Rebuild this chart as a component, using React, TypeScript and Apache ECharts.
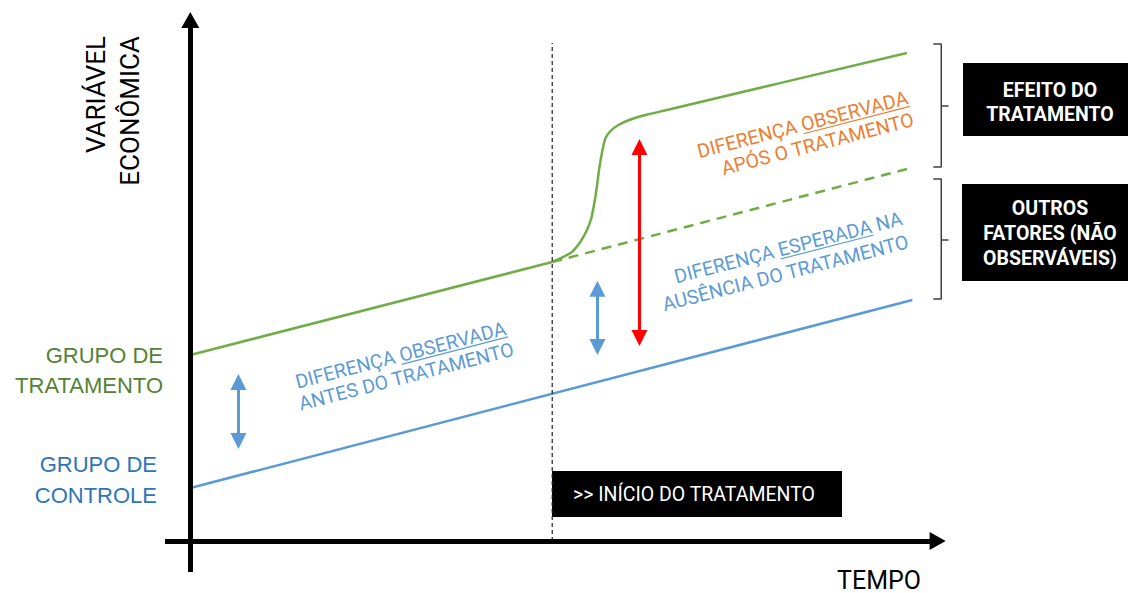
import React, { useEffect, useRef } from 'react';
import * as echarts from 'echarts';

const W = 1128;
const H = 593;
const FONT = 'Roboto, "Liberation Sans", sans-serif';
const LABEL_FONT = '"Liberation Sans", Arial, sans-serif';

// value ranges of the (hidden) axes
const xMin = -0.7;
const xMax = 25.8;
const yMin = -3.1;
const yMax = 52.9;

// control group (blue)
const controlT = [0, 19.95];
const controlY = [5.3, 24.1];
// treatment group before treatment (green)
const treatPreT = [0, 10];
const treatPreY = [18.6, 27.9];
// treatment group after treatment (green, jump)
const treatPostT = [10, 10.27, 10.55, 10.78, 10.96, 11.08, 11.17, 11.24, 11.3, 11.38, 11.47, 11.61, 11.83, 12.2, 12.66, 13.08, 19.8];
const treatPostY = [27.9, 28.33, 28.93, 29.93, 31.1, 32.27, 33.93, 35.6, 37.27, 38.93, 40.27, 41.0, 41.6, 42.2, 42.67, 43.03, 48.8];
// counterfactual (dashed green)
const counterT = [10, 19.8];
const counterY = [27.9, 37.2];
// start of treatment
const treatmentStart = 10;
const treatmentLineTop = 49.8;
// double arrows
const arrowPreT = 1.33;
const arrowPreY = [15.9, 10.0];
const arrowExpT = 11.25;
const arrowExpY = [25.23, 19.4];
const arrowEffT = 12.41;
const arrowEffY = [39.4, 20.3];
// axes
const axisXEnd = 20.65;
const axisYEnd = 52.1;
// brackets [top, bottom, middle]
const bracketT = [20.53, 20.75, 20.95];
const bracketEffectY = [49.7, 37.4, 43.5];
const bracketOtherY = [36.2, 24.2, 30.1];

// texts
const yTitleLines = ['VARIÁVEL', 'ECONÔMICA'];
const xTitle = 'TEMPO';
const treatLabelLines = ['GRUPO DE', 'TRATAMENTO'];
const controlLabelLines = ['GRUPO DE', 'CONTROLE'];
const preDiffLines = ['DIFERENÇA OBSERVADA', 'ANTES DO TRATAMENTO'];
const postDiffLines = ['DIFERENÇA OBSERVADA', 'APÓS O TRATAMENTO'];
const expDiffLines = ['DIFERENÇA ESPERADA NA', 'AUSÊNCIA DO TRATAMENTO'];
const startLabel = '>> INÍCIO DO TRATAMENTO';
const effectLabel = 'EFEITO DO\nTRATAMENTO';
const otherLabel = 'OUTROS\nFATORES (NÃO\nOBSERVÁVEIS)';

const GREEN = '#70AD47';
const BLUE = '#5B9BD5';
const GREEN_TXT = '#548235';
const BLUE_TXT = '#2E75B6';
const ORANGE = '#ED7D31';
const RED = '#FF0000';

const zip = (a: number[], b: number[]) => a.map((v, i) => [v, b[i]]);

let measureCtx: CanvasRenderingContext2D | null = null;
function measure(text: string, font: string) {
  if (!measureCtx) measureCtx = document.createElement('canvas').getContext('2d');
  measureCtx!.font = font;
  return measureCtx!.measureText(text).width;
}

const ROT = (14.5 * Math.PI) / 180;

function rotBlock(
  lines: string[],
  cx: number,
  cy: number,
  align: 'left' | 'center' | 'right',
  color: string,
  ul: { line: number; before: string; word: string },
  spacing: number
) {
  const font = `19.5px ${FONT}`;
  const children: any[] = [];
  lines.forEach((t, i) => {
    const ly = (i - (lines.length - 1) / 2) * spacing;
    children.push({
      type: 'text',
      x: 0,
      y: ly,
      style: { text: t, align, verticalAlign: 'middle', fill: color, font },
    });
  });
  const w = measure(lines[ul.line], font);
  const left = align === 'center' ? -w / 2 : align === 'right' ? -w : 0;
  const x1 = left + measure(ul.before, font);
  const x2 = x1 + measure(ul.word, font);
  const uy = (ul.line - (lines.length - 1) / 2) * spacing + 9;
  children.push({
    type: 'line',
    shape: { x1, y1: uy, x2, y2: uy },
    style: { stroke: color, lineWidth: 1.2 },
  });
  return { type: 'group', x: cx, y: cy, rotation: ROT, silent: true, children };
}

function lineSeries(data: number[][], color: string, width: number, type: any = 'solid', extra: any = {}) {
  return {
    type: 'line',
    data,
    symbol: 'none',
    silent: true,
    animation: false,
    lineStyle: { color, width, type },
    emphasis: { disabled: true },
    ...extra,
  };
}

function arrowSeries(segments: number[][][], color: string, width: number, symbol: string[], size: number[]) {
  return {
    type: 'line',
    data: [],
    silent: true,
    animation: false,
    markLine: {
      silent: true,
      animation: false,
      symbol,
      symbolSize: size,
      label: { show: false },
      emphasis: { disabled: true },
      lineStyle: { color, width, type: 'solid' },
      itemStyle: { color },
      data: segments.map(([a, b]) => [{ coord: a }, { coord: b }]),
    },
  };
}

function buildOption() {
  const labelFont = `22px ${LABEL_FONT}`;
  const series: any[] = [
    // axes
    arrowSeries(
      [
        [[xMin, 0], [axisXEnd, 0]],
        [[0, yMin], [0, axisYEnd]],
      ],
      '#000',
      5,
      ['none', 'triangle'],
      [18, 16]
    ),
    lineSeries(zip(controlT, controlY), BLUE, 2.5),
    lineSeries(zip(treatPreT, treatPreY), GREEN, 2.5),
    lineSeries(zip(treatPostT, treatPostY), GREEN, 2.5, 'solid', { smooth: 0.2 }),
    lineSeries(zip(counterT, counterY), GREEN, 2.5, [10, 7]),
    lineSeries([[treatmentStart, 0], [treatmentStart, treatmentLineTop]], '#222', 1.2, [4, 3]),
    arrowSeries(
      [
        [[arrowPreT, arrowPreY[0]], [arrowPreT, arrowPreY[1]]],
        [[arrowExpT, arrowExpY[0]], [arrowExpT, arrowExpY[1]]],
      ],
      BLUE,
      3,
      ['triangle', 'triangle'],
      [16, 16]
    ),
    arrowSeries([[[arrowEffT, arrowEffY[0]], [arrowEffT, arrowEffY[1]]]], RED, 3, ['triangle', 'triangle'], [16, 16]),
    lineSeries(
      [
        [bracketT[0], bracketEffectY[0]],
        [bracketT[1], bracketEffectY[0]],
        [bracketT[1], bracketEffectY[1]],
        [bracketT[0], bracketEffectY[1]],
      ],
      '#404040',
      1.5
    ),
    lineSeries([[bracketT[1], bracketEffectY[2]], [bracketT[2], bracketEffectY[2]]], '#404040', 1.5),
    lineSeries(
      [
        [bracketT[0], bracketOtherY[0]],
        [bracketT[1], bracketOtherY[0]],
        [bracketT[1], bracketOtherY[1]],
        [bracketT[0], bracketOtherY[1]],
      ],
      '#404040',
      1.5
    ),
    lineSeries([[bracketT[1], bracketOtherY[2]], [bracketT[2], bracketOtherY[2]]], '#404040', 1.5),
  ];

  const graphic: any[] = [
    // y title
    {
      type: 'text',
      x: 95.5,
      y: 36,
      rotation: Math.PI / 2,
      silent: true,
      style: { text: yTitleLines[0], align: 'right', verticalAlign: 'middle', fill: '#000', font: `26px ${FONT}` },
    },
    {
      type: 'text',
      x: 129.5,
      y: 36,
      rotation: Math.PI / 2,
      silent: true,
      style: { text: yTitleLines[1], align: 'right', verticalAlign: 'middle', fill: '#000', font: `26px ${FONT}` },
    },
    // x title
    {
      type: 'text',
      x: 921,
      y: 580,
      silent: true,
      style: { text: xTitle, align: 'right', verticalAlign: 'middle', fill: '#000', font: `25px ${FONT}` },
    },
    // group labels
    ...treatLabelLines.map((t, i) => ({
      type: 'text',
      x: 163,
      y: 355 + i * 30.5,
      silent: true,
      style: { text: t, align: 'right', verticalAlign: 'middle', fill: GREEN_TXT, font: labelFont },
    })),
    ...controlLabelLines.map((t, i) => ({
      type: 'text',
      x: 157,
      y: 464.5 + i * 31,
      silent: true,
      style: { text: t, align: 'right', verticalAlign: 'middle', fill: BLUE_TXT, font: labelFont },
    })),
    // rotated annotations
    rotBlock(preDiffLines, 403.5, 366, 'center', BLUE, { line: 0, before: 'DIFERENÇA ', word: 'OBSERVADA' }, 22),
    rotBlock(postDiffLines, 910.5, 108.5, 'right', ORANGE, { line: 0, before: 'DIFERENÇA ', word: 'OBSERVADA' }, 22.5),
    rotBlock(expDiffLines, 905, 230, 'right', BLUE, { line: 0, before: 'DIFERENÇA ', word: 'ESPERADA' }, 24),
    // start of treatment box
    {
      type: 'rect',
      silent: true,
      shape: { x: 552, y: 471, width: 290, height: 46 },
      style: { fill: '#000' },
    },
    {
      type: 'text',
      x: 573,
      y: 494,
      silent: true,
      style: { text: startLabel, align: 'left', verticalAlign: 'middle', fill: '#fff', font: `19.5px ${FONT}` },
    },
    // effect boxes
    {
      type: 'rect',
      silent: true,
      shape: { x: 963, y: 63, width: 175, height: 73 },
      style: { fill: '#000' },
    },
    {
      type: 'text',
      x: 1050,
      y: 102.5,
      silent: true,
      style: {
        text: effectLabel,
        align: 'center',
        verticalAlign: 'middle',
        fill: '#fff',
        font: `bold 19.5px ${FONT}`,
        lineHeight: 23.5,
      },
    },
    {
      type: 'rect',
      silent: true,
      shape: { x: 962, y: 184, width: 176, height: 97 },
      style: { fill: '#000' },
    },
    {
      type: 'text',
      x: 1050,
      y: 233,
      silent: true,
      style: {
        text: otherLabel,
        align: 'center',
        verticalAlign: 'middle',
        fill: '#fff',
        font: `bold 19.5px ${FONT}`,
        lineHeight: 25,
      },
    },
  ];

  return {
    animation: false,
    backgroundColor: '#fff',
    grid: { left: 165, right: 4, top: 12, bottom: 21, containLabel: false },
    xAxis: { type: 'value', min: xMin, max: xMax, show: false },
    yAxis: { type: 'value', min: yMin, max: yMax, show: false },
    tooltip: { show: false },
    series,
    graphic,
  };
}

export default function App() {
  const ref = useRef<HTMLDivElement>(null);
  useEffect(() => {
    document.body.style.margin = '0';
    const chart = echarts.init(ref.current!, undefined, { renderer: 'svg', width: W, height: H });
    chart.setOption(buildOption() as any);
    return () => chart.dispose();
  }, []);
  return <div ref={ref} style={{ width: W, height: H, position: 'absolute', left: 0, top: 0 }} />;
}
